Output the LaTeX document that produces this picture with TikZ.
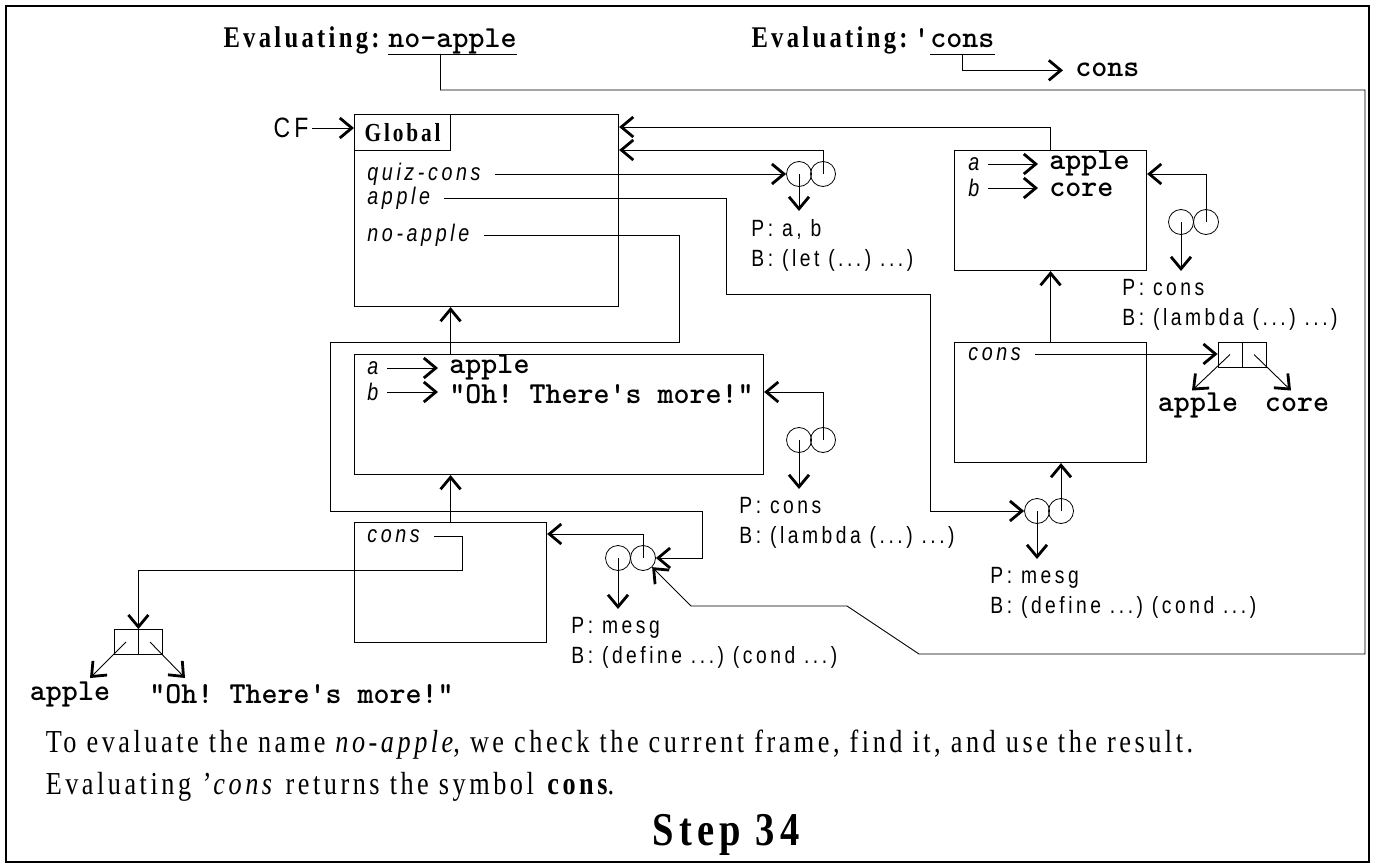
\documentclass[tikz,border=0pt]{standalone}
\usepackage{fontspec}
\setmainfont{Liberation Serif}[FakeStretch=0.82,LetterSpace=11]
\newfontfamily\lblfont{Liberation Sans}[FakeStretch=0.82,LetterSpace=15]
\newfontfamily\codefont{lmmonolt10-bold}[Extension=.otf,Ligatures=TeXOff]
\usetikzlibrary{arrows.meta}
\frenchspacing

\tikzset{
  frame/.style={draw,line width=1.1pt,anchor=north west,inner sep=0pt},
  cell/.style={draw,circle,minimum size=25pt,inner sep=0pt,line width=0.8pt},
  box/.style={draw,minimum width=24pt,minimum height=25pt,inner sep=0pt,line width=0.8pt},
  var/.style={font=\fontsize{24}{26}\lblfont\itshape,anchor=west,inner sep=0pt},
  code/.style={font=\fontsize{30.5}{32}\codefont,inner sep=0pt},
  lbl/.style={font=\fontsize{23.5}{30}\lblfont,align=left,anchor=north west,
    inner xsep=0pt,inner ysep=8pt},
  title/.style={font=\fontsize{30}{34}\selectfont\bfseries,inner sep=0pt},
  bind/.style={->,shorten <=8pt,shorten >=11pt},
  link/.style={->,shorten <=14pt}
}

\begin{document}
\begin{tikzpicture}[x=1pt,y=-1pt,line width=0.9pt,
    >={Straight Barb[length=12pt,width=20pt,line width=2.8pt]}]
  \useasboundingbox (0,0) rectangle (1374,867);
  \draw[line width=1.2pt] (6,6) rectangle (1369,862);

  % what is being evaluated
  \node[title,anchor=base east] (evA) at (380,48) {Evaluating:};
  \node[code,anchor=base west] (expA) at (388,48) {no-apple};
  \draw ([yshift=-6pt]expA.base west) -- ([yshift=-6pt]expA.base east);
  \node[title,anchor=base east] (evB) at (908,48) {Evaluating:};
  \node[code,anchor=base east] (qB) at (930,48) {'};
  \node[code,anchor=base west] (expB) at (930,48) {cons};
  \draw ([yshift=-6pt]expB.base west) -- ([yshift=-6pt]expB.base east);
  \node[code,anchor=base west] (consres) at (1075,77) {cons};
  \draw[->] ([yshift=-6pt]expB.base) |- ([xshift=-12pt]consres.west);

  % global frame
  \node[frame,minimum width=264pt,minimum height=192pt] (global) at (354,114) {};
  \node[frame,minimum width=96pt,minimum height=36pt,
    font=\fontsize{26}{28}\selectfont\bfseries] (glab) at (354,114) {Global};
  \node[font=\fontsize{28}{30}\lblfont] (cf) at (291,128) {CF};
  \draw[->] (cf) -- (cf -| global.west);
  \node[var] (g-qc) at (367,174) {quiz-cons};
  \node[var] (g-ap) at (367,198) {apple};
  \node[var] (g-na) at (367,235) {no-apple};

  % frame of the let
  \node[frame,minimum width=192pt,minimum height=120pt] (fa) at (954,150) {};
  \node[var] (fa-a) at (968,164) {a};
  \node[code,anchor=west] (fa-av) at (1049,163) {apple};
  \node[var] (fa-b) at (968,188) {b};
  \node[code,anchor=west] (fa-bv) at (1049,190) {core};
  \draw[bind] (fa-a) -- (fa-a -| fa-av.west);
  \draw[bind] (fa-b) -- (fa-b -| fa-bv.west);

  % frame of quiz-cons
  \node[frame,minimum width=409pt,minimum height=120pt] (fm) at (354,354) {};
  \node[var] (fm-a) at (367,368) {a};
  \node[code,anchor=west] (fm-av) at (449,367) {apple};
  \node[var] (fm-b) at (367,392) {b};
  \node[code,anchor=west] (fm-bv) at (449,394) {"Oh! There's more!"};
  \draw[bind] (fm-a) -- (fm-a -| fm-av.west);
  \draw[bind] (fm-b) -- (fm-b -| fm-bv.west);

  % the two cons frames
  \node[frame,minimum width=192pt,minimum height=120pt] (fb) at (354,522) {};
  \node[var] (fb-cons) at (367,536) {cons};
  \node[frame,minimum width=192pt,minimum height=120pt] (fc) at (954,342) {};
  \node[var] (fc-cons) at (968,354) {cons};

  % procedures
  \node[cell] (pq-l) at (799,174) {};
  \node[cell] (pq-r) at (823,174) {};
  \node[lbl] (pq-t) at (751,211) {P: a, b\\B: (let (...) ...)};
  \node[cell] (pfm-l) at (799,440) {};
  \node[cell] (pfm-r) at (823,440) {};
  \node[lbl] (pfm-t) at (739,489) {P: cons\\B: (lambda (...) ...)};
  \node[cell] (pa-l) at (1181,222) {};
  \node[cell] (pa-r) at (1206,222) {};
  \node[lbl] (pa-t) at (1122,271) {P: cons\\B: (lambda (...) ...)};
  \node[cell] (pm1-l) at (618,558) {};
  \node[cell] (pm1-r) at (643,558) {};
  \node[lbl] (pm1-t) at (571,609) {P: mesg\\B: (define ...) (cond ...)};
  \node[cell] (pm2-l) at (1037,511) {};
  \node[cell] (pm2-r) at (1061,511) {};
  \node[lbl] (pm2-t) at (990,559) {P: mesg\\B: (define ...) (cond ...)};
  \foreach \p in {pq,pfm,pa,pm1,pm2}
    \draw[->] (\p-l.center) -- (\p-l |- \p-t.north);

  % pairs
  \node[box] (pr-l) at (1230,354.5) {};
  \node[box] (pr-r) at (1254,354.5) {};
  \node[code] (pr-av) at (1198,405) {apple};
  \node[code] (pr-dv) at (1297,405) {core};
  \draw[->] (pr-l.center) -- ++(-38,36);
  \draw[->] (pr-r.center) -- ++(37,36);
  \node[box] (pl-l) at (126,642) {};
  \node[box] (pl-r) at (150,642) {};
  \node[code] (pl-av) at (70,694) {apple};
  \node[code,anchor=west] (pl-dv) at (149,694) {"Oh! There's more!"};
  \draw[->] (pl-l.center) -- ++(-36,36);
  \draw[->] (pl-r.center) -- ++(35,36);

  % environment pointers
  \draw[->] (fa.north) |- ([yshift=-13pt]global.north east);
  \draw[->] (pq-r.center) |- ([yshift=-36pt]global.north east);
  \draw[->] (pa-r.center) |- ([yshift=-24pt]fa.north east);
  \draw[->] (pfm-r.center) |- ([yshift=-38pt]fm.north east);
  \draw[->] (pm1-r.center) |- ([yshift=-12pt]fb.north east);
  \draw[->] (pm2-r.center) -- (pm2-r |- fc.south);
  \draw[->] (fb.north) -- (fb.north |- fm.south);
  \draw[->] (fb.north |- fm.north) -- (fb.north |- global.south);
  \draw[->] (fc.north) -- (fa.south);

  % bindings
  \draw[link] (g-qc.east) -- (pq-l);
  \draw[link] (g-ap.east) -| (726,294) -| (930,511) -- (pm2-l);
  \draw[link] (g-na.east) -| (679,342) -| (330,511) -| (702,558) -- (pm1-r);
  \draw[link] (fc-cons.east) -- (fc-cons.east -| pr-l.west);
  \draw[link] (fb-cons.east) -| (462,570) -| (pl-l.north east);
  \draw[->] ([xshift=-12pt,yshift=-6pt]expA.base) |- (1365,90) |- (919,654)
    -- (847,606) -- (691,606) -- (pm1-r);

  % explanation
  \node[anchor=west,align=left,font=\fontsize{32}{42}\selectfont] (txt) at (42,766)
    {To evaluate the name \textit{no-apple}, we check the current frame, find it, and use the result.\\
     Evaluating \textit{'cons} returns the symbol \textbf{cons}.};
  \node[anchor=base,font=\fontsize{47}{50}\selectfont\bfseries] (step) at (726,845) {Step 34};
\end{tikzpicture}
\end{document}
